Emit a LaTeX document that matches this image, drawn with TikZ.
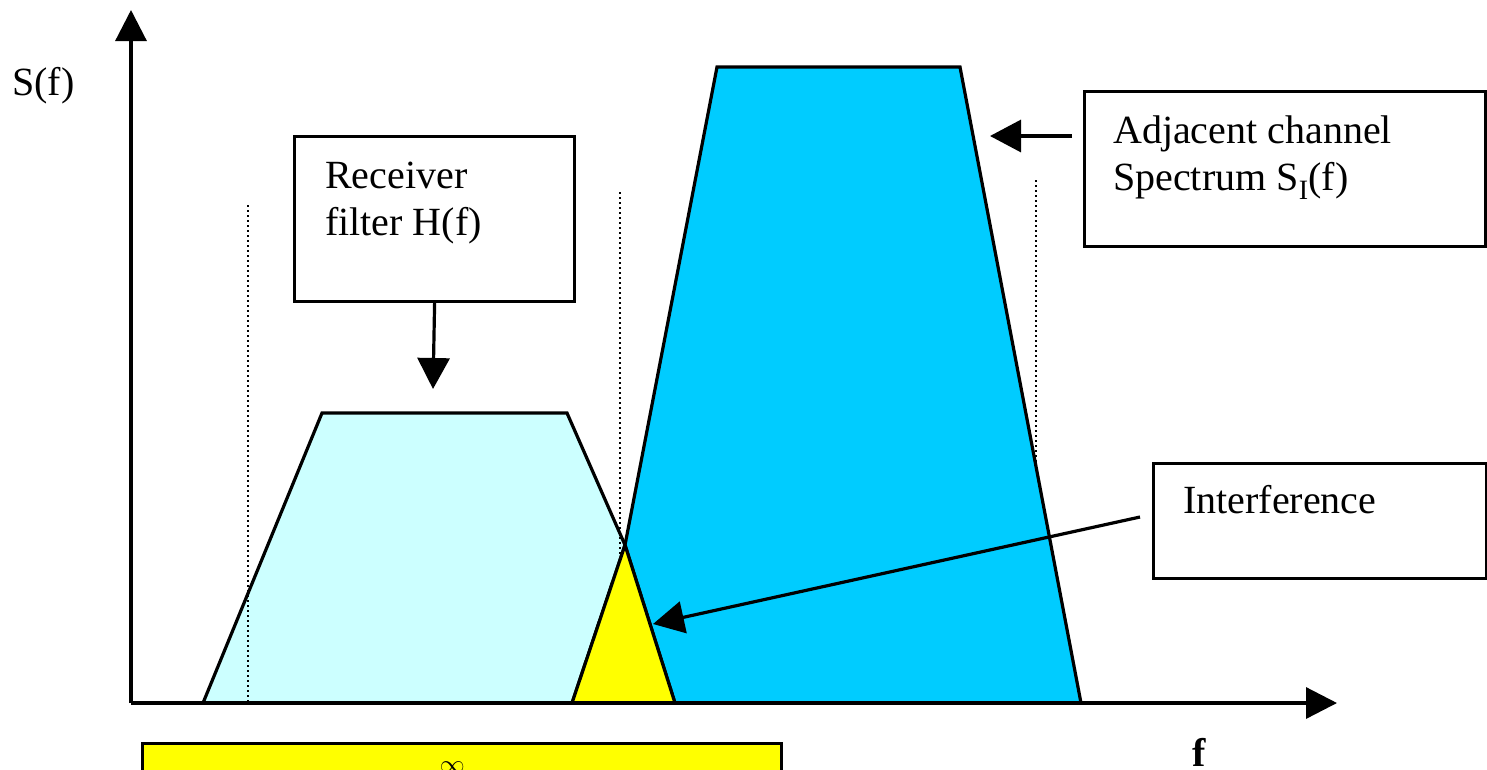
\documentclass[tikz,border=0pt]{standalone}
\usepackage{fontspec}
\setmainfont{Liberation Serif}
\usetikzlibrary{arrows.meta}

\definecolor{passband}{HTML}{CCFFFF}
\definecolor{adjband}{HTML}{00CCFF}
\definecolor{overlap}{HTML}{FFFF00}

\tikzset{
  outline/.style={draw=black, line width=3.2pt, line join=miter},
  guide/.style={draw=black, line width=2.4pt, dash pattern=on 2.4pt off 2.6pt},
  axis/.style={draw=black, line width=3.2pt, -{Triangle[length=31pt,width=31pt]}},
  pointer/.style={draw=black, line width=3.2pt, -{Triangle[length=31pt,width=32pt]}},
  labelbox/.style={draw=black, line width=3.2pt, fill=white, anchor=north west, inner sep=0pt},
  txt/.style={inner sep=0pt, anchor=base west, font=\fontsize{40}{47}\selectfont},
}

\begin{document}
\begin{tikzpicture}[x=1pt, y=-1pt]
  \useasboundingbox (0,0) rectangle (1487,769);
  \clip (0,0) rectangle (1487,769);

  % receiver pass band
  \path[outline, fill=passband] (203,703) -- (322,413) -- (567,413) -- (625,545) -- (572,703) -- cycle;

  % band edge guides
  \draw[guide] (248,205) -- (248,703);
  \draw[guide] (620,192) -- (620,703);
  \draw[guide] (1036,180) -- (1036,703);

  % adjacent channel spectrum
  \path[outline, fill=adjband] (717,67) -- (960,67) -- (1081,703) -- (675,703) -- (625,545) -- cycle;

  % overlap (interference)
  \path[outline, fill=overlap] (572,703) -- (625,545) -- (675,703) -- cycle;

  % axes
  \coordinate (origin) at (131,703);
  \coordinate (ytip) at (131,10);
  \coordinate (xtip) at (1337,703);
  \draw[axis] (origin) -- (ytip);
  \draw[axis] (origin) -- (xtip);
  \node[txt] (ylabel) at (12,95) {S(f)};
  \node[txt, font=\fontsize{40}{47}\selectfont\bfseries] (xlabel) at (1192,766) {f};

  % receiver filter label
  \node[labelbox, minimum width=280pt, minimum height=165pt] (rxbox) at (293,135) {};
  \node[txt] (rx1) at (325,188) {Receiver};
  \node[txt] (rx2) at (325,235) {filter H(f)};
  \coordinate (rxtip) at (433,389);
  \draw[pointer] (rxbox.south) -- (rxtip);

  % adjacent channel label
  \node[labelbox, minimum width=401pt, minimum height=155pt] (adjbox) at (1083,90) {};
  \node[txt] (adj1) at (1113,143) {Adjacent channel};
  \node[txt] (adj2) at (1113,190) {Spectrum S\textsubscript{I}(f)};
  \coordinate (adjstart) at (1072,136);
  \coordinate (adjtip) at (990,136);
  \draw[pointer] (adjstart) -- (adjtip);

  % interference label
  \node[labelbox, minimum width=333pt, minimum height=115pt] (intbox) at (1152,462) {};
  \node[txt] (int1) at (1183,513) {Interference};
  \coordinate (intstart) at (1140,517);
  \coordinate (inttip) at (653,624);
  \draw[pointer] (intstart) -- (inttip);

  % formula box below the axis
  \node[labelbox, fill=overlap, minimum width=639pt, minimum height=120pt] (formbox) at (141,742) {};
  \node[inner sep=0pt, anchor=north west, font=\fontsize{40}{47}\selectfont] (formula) at (433,762) {$\int^{\infty}$};
\end{tikzpicture}
\end{document}
